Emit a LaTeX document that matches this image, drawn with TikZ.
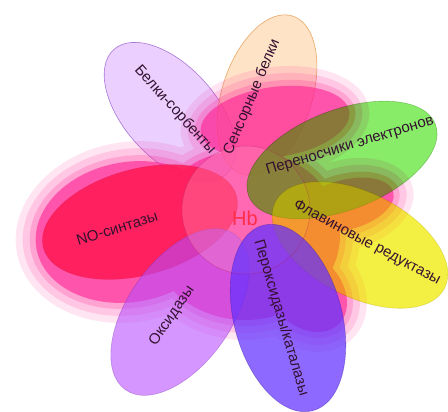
\documentclass[tikz,border=0pt]{standalone}
\usepackage{fontspec}
\setmainfont{Liberation Sans}
\definecolor{lavfill}{HTML}{D9A8FF}
\definecolor{lavline}{HTML}{A978D8}
\definecolor{peachfill}{HTML}{FFC890}
\definecolor{peachline}{HTML}{E8A868}
\definecolor{glowcol}{HTML}{FF2496}
\definecolor{nofill}{HTML}{FF1A55}
\definecolor{oxfill}{HTML}{B84CFF}
\definecolor{grfill}{HTML}{62E638}
\definecolor{warmlift}{HTML}{FFB070}
\definecolor{yefill}{HTML}{F6F226}
\definecolor{pxfill}{HTML}{6230FF}
\definecolor{circfill}{HTML}{FF9CC4}
\definecolor{circline}{HTML}{B01E5C}
\definecolor{labeltext}{HTML}{34122F}
\definecolor{hbred}{HTML}{FF2E48}
\newcommand\petalE[6]{%
  \path[#6, rotate around={#5:(#1,#2)}] (#1,#2) ellipse [x radius=#3, y radius=#4];}
\newcommand\blobpath[1]{%
   {[rotate around={10:(130,232)}] (130,232) ellipse [x radius=115-#1, y radius=90-#1]}
   {[rotate around={8:(275,122)}] (275,122) ellipse [x radius=95-#1, y radius=55-#1]}
   (245,235) ellipse [x radius=115-#1, y radius=105-#1]
   {[rotate around={15:(345,205)}] (345,205) ellipse [x radius=70-#1, y radius=45-#1]}
   {[rotate around={-45:(305,290)}] (305,290) ellipse [x radius=68-#1, y radius=55-#1]}}
\newcommand\glowblob[2]{\fill[glowcol, opacity=#2] \blobpath{#1};}
\begin{document}
\begin{tikzpicture}[x=1pt,y=-1pt,
  lbl/.style={font=\fontsize{15}{17}\selectfont, text=labeltext, inner sep=0pt},
  hbstyle/.style={font=\fontsize{20}{22}\selectfont, text=hbred, inner sep=0pt},
  petalline/.style={line width=0.6pt}
]
\useasboundingbox (0,0) rectangle (448,412);
\fill[white] (0,0) rectangle (448,412);

% back petals
\petalE{170}{112}{84}{46}{-48}{fill=lavfill, fill opacity=0.55, draw=lavline, petalline}
\petalE{267}{95}{83}{45}{72}{fill=peachfill, fill opacity=0.5, draw=peachline, petalline}

% pink glow
\glowblob{0}{0.12}
\glowblob{7}{0.15}
\glowblob{14}{0.22}
\glowblob{20}{0.62}

% front petals
\petalE{140}{222}{100}{53}{15}{fill=nofill, fill opacity=0.88, draw=nofill!80!black, draw opacity=0.3, petalline}
\petalE{180}{312}{95}{52}{55}{fill=oxfill, fill opacity=0.58, draw=oxfill!70!black, draw opacity=0.4, petalline}
\fill[circfill, opacity=0.3] (246,210) circle [radius=64];
% green petal: warm lift of the pink below it, then multiply
\begin{scope}
  \clip[rotate around={21:(342,160)}] (342,160) ellipse [x radius=100, y radius=50];
  \fill[warmlift, opacity=0.5] \blobpath{14};
\end{scope}
\petalE{342}{160}{100}{50}{21}{fill=grfill, fill opacity=0.75, blend mode=multiply, draw=grfill!60!black, draw opacity=0.4, petalline}
\petalE{360}{245}{95}{52}{-27}{fill=yefill, fill opacity=0.4}
\petalE{360}{245}{95}{52}{-27}{fill=yefill, fill opacity=0.7, blend mode=multiply, draw=yefill!70!black, draw opacity=0.3, petalline}
\petalE{288}{318}{96}{54}{-75}{fill=pxfill, fill opacity=0.72, draw=pxfill!60!black, draw opacity=0.4, petalline}
\draw[circline, opacity=0.35, line width=0.6pt] (246,210) circle [radius=64];

% labels
\node[lbl, rotate=-48] (sorb) at (175,110) {Белки-сорбенты};
\node[lbl, rotate=67] (sens) at (252,97) {Сенсорные белки};
\node[lbl, rotate=17] (trans) at (350,146) {Переносчики электронов};
\node[lbl, rotate=-28] (flav) at (367,243) {Флавиновые редуктазы};
\node[lbl, rotate=-73.5] (perox) at (281,318) {Пероксидазы/каталазы};
\node[lbl, rotate=56] (oxid) at (172,316) {Оксидазы};
\node[lbl, rotate=17] (nos) at (117,228) {NO-синтазы};
\node[hbstyle] (hb) at (245,218) {Hb};
\end{tikzpicture}
\end{document}
